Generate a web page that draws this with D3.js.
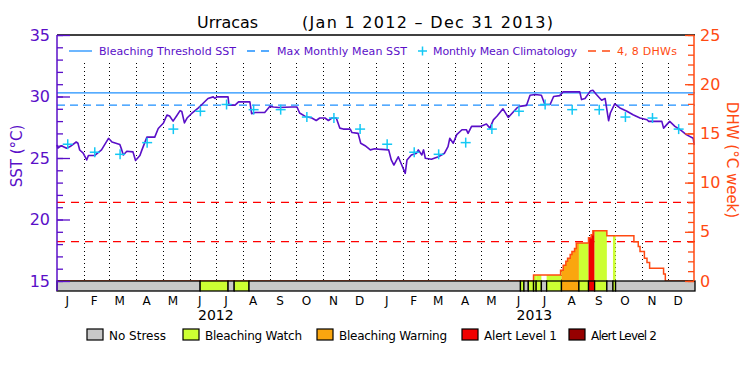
<!DOCTYPE html>
<html>
<head>
<meta charset="utf-8">
<script src="https://cdn.jsdelivr.net/npm/d3@7"></script>
<style>
  body { margin: 0; background: #fff; }
  svg { display: block; font-family: 'DejaVu Sans', sans-serif; }
</style>
</head>
<body>
<svg id="chart" width="750" height="375"></svg>
<script>
const startDate = new Date(Date.UTC(2012, 0, 1))
const endDate = new Date(Date.UTC(2014, 0, 1))

// SST readings, days counted from Jan 1 2012
const sstDay = [0, 1, 5, 11, 15, 22, 24, 26, 30, 34, 36, 43, 51, 59, 63, 72, 74, 76, 80, 87, 90, 95, 97, 103, 112, 116, 122, 126, 129, 133, 137, 141, 143, 146, 149, 154, 162, 166, 173, 179, 181, 183, 196, 197, 204, 208, 221, 223, 227, 238, 244, 248, 254, 269, 275, 278, 284, 292, 297, 301, 307, 311, 315, 320, 324, 328, 336, 338, 345, 348, 353, 359, 364, 368, 380, 383, 386, 391, 395, 399, 401, 406, 412, 414, 418, 420, 422, 429, 437, 444, 448, 450, 454, 458, 464, 469, 471, 475, 485, 492, 496, 500, 504, 511, 517, 527, 530, 538, 542, 548, 555, 559, 565, 569, 576, 580, 599, 601, 605, 611, 614, 618, 624, 628, 632, 634, 639, 645, 653, 660, 668, 676, 678, 693, 695, 702, 708, 714, 721, 729, 730]
const sstValue = [26.07, 25.8, 26.0, 25.8, 25.93, 26.3, 26.2, 25.65, 25.4, 24.84, 25.2, 25.2, 25.66, 26.6, 26.3, 26.1, 25.7, 25.25, 25.55, 25.5, 24.8, 25.2, 25.6, 26.7, 26.7, 27.4, 27.85, 28.5, 28.42, 28.0, 28.42, 28.85, 28.78, 27.85, 28.25, 28.6, 29.07, 29.35, 29.84, 29.97, 29.84, 29.97, 29.97, 29.3, 29.3, 29.56, 29.56, 28.6, 28.7, 28.7, 29.2, 29.15, 29.1, 29.15, 29.15, 28.66, 28.4, 28.25, 28.05, 28.25, 28.25, 28.05, 28.25, 28.25, 27.43, 27.35, 27.35, 27.07, 27.0, 26.2, 26.0, 25.66, 25.75, 25.72, 25.66, 24.84, 24.43, 25.1, 24.43, 23.75, 24.84, 25.25, 25.39, 25.66, 25.25, 25.66, 24.98, 24.9, 25.1, 25.39, 25.93, 26.6, 26.2, 26.9, 27.3, 27.3, 27.0, 27.57, 27.57, 27.76, 27.43, 28.1, 28.39, 29.0, 28.3, 29.07, 29.2, 29.28, 30.1, 30.16, 30.1, 29.35, 29.35, 30.0, 30.07, 30.38, 30.38, 29.75, 29.84, 30.44, 30.5, 30.16, 29.7, 29.84, 28.03, 28.66, 29.4, 29.07, 28.8, 28.52, 28.25, 28.11, 27.98, 27.98, 27.43, 27.98, 27.57, 27.3, 26.9, 26.6, 26.07]

const climMonthly = [26.12, 25.47, 25.3, 26.25, 27.35, 28.8, 29.35, 28.93, 28.93, 28.33, 28.25, 27.35]
const climYears = [2012, 2013]
const monthLetters = ['J', 'F', 'M', 'A', 'M', 'J', 'J', 'A', 'S', 'O', 'N', 'D']

const thresholdSst = 30.3
const mmmSst = 29.3
const dhwLevels = [4, 8]

const dhwDay = [0, 546, 577, 580, 583, 585, 588, 590, 593, 595, 609, 612, 614, 630, 661, 666, 668, 673, 676, 679, 695, 697, 731]
const dhwValue = [0, 0.6, 1.1, 1.6, 2.0, 2.3, 2.7, 3.0, 3.3, 3.85, 4.4, 4.7, 5.1, 4.6, 4.0, 3.5, 3.0, 2.3, 1.87, 1.3, 0.7, 0, 0]

// stress level runs: 0 no stress, 1 watch, 2 warning, 3 alert 1, 4 alert 2
const stressDay = [0, 164, 196, 203, 220, 531, 535, 540, 546, 549, 555, 561, 578, 598, 609, 616, 630, 637, 640]
const stressLevel = [0, 1, 0, 1, 0, 1, 0, 1, 1, 1, 0, 1, 2, 1, 3, 1, 0, 1, 0]
const stressNames = ['No Stress', 'Bleaching Watch', 'Bleaching Warning', 'Alert Level 1', 'Alert Level 2']

const stressColors = ['#c8c8c8', '#ccff33', '#faa60f', '#f00000', '#960000']
const purple = '#5a0fc8'
const blue = '#1e90ff'
const cyan = '#14c8f5'
const dhwColor = '#ff4a12'

const plotLeft = 57
const plotRight = 695
const plotTop = 35
const plotBase = 281
const barBottom = 291

const svg = d3.select('#chart')

const dayToDate = (d) => d3.utcDay.offset(startDate, d)
const x = d3.scaleUtc().domain([startDate, endDate]).range([plotLeft, plotRight])
const ySst = d3.scaleLinear().domain([15, 35]).range([plotBase, plotTop])
const yDhw = d3.scaleLinear().domain([0, 25]).range([plotBase, plotTop])

// month grid
svg.append('g')
  .selectAll('line')
  .data(d3.utcMonth.range(d3.utcMonth.offset(startDate, 1), endDate))
  .join('line')
  .attr('x1', (d) => Math.round(x(d)) + 0.5)
  .attr('x2', (d) => Math.round(x(d)) + 0.5)
  .attr('y1', 63)
  .attr('y2', plotBase)
  .attr('stroke', '#000')
  .attr('stroke-dasharray', '1,3')

// 4 and 8 DHW references
svg.append('g')
  .selectAll('line')
  .data(dhwLevels)
  .join('line')
  .attr('x1', plotLeft)
  .attr('x2', plotRight)
  .attr('y1', (d) => yDhw(d))
  .attr('y2', (d) => yDhw(d))
  .attr('stroke', '#f00')
  .attr('stroke-width', 1.2)
  .attr('stroke-dasharray', '8,6')

svg.append('line')
  .attr('x1', plotLeft).attr('x2', plotRight)
  .attr('y1', ySst(thresholdSst)).attr('y2', ySst(thresholdSst))
  .attr('stroke', blue).attr('stroke-width', 1.3)

svg.append('line')
  .attr('x1', plotLeft).attr('x2', plotRight)
  .attr('y1', ySst(mmmSst)).attr('y2', ySst(mmmSst))
  .attr('stroke', blue).attr('stroke-width', 1.3)
  .attr('stroke-dasharray', '8,5')

// DHW area filled by stress level
const dhwPoints = dhwDay.map((d, i) => ({ date: dayToDate(d), value: dhwValue[i] }))
const dhwArea = d3.area().curve(d3.curveStepAfter).x((d) => x(d.date)).y0(plotBase).y1((d) => yDhw(d.value))
const dhwLine = d3.line().curve(d3.curveStepAfter).x((d) => x(d.date)).y((d) => yDhw(d.value))

svg.append('clipPath').attr('id', 'dhw-clip').append('path').attr('d', dhwArea(dhwPoints))

const stressRuns = stressDay.map((d, i) => ({
  start: dayToDate(d),
  end: i < stressDay.length - 1 ? dayToDate(stressDay[i + 1]) : endDate,
  level: stressLevel[i]
}))

svg.append('g')
  .attr('clip-path', 'url(#dhw-clip)')
  .selectAll('rect')
  .data(stressRuns.filter((d) => d.level > 0))
  .join('rect')
  .attr('x', (d) => x(d.start))
  .attr('width', (d) => x(d.end) - x(d.start))
  .attr('y', plotTop)
  .attr('height', plotBase - plotTop)
  .attr('fill', (d) => stressColors[d.level])

svg.append('path')
  .attr('d', dhwLine(dhwPoints))
  .attr('fill', 'none')
  .attr('stroke', dhwColor)
  .attr('stroke-width', 1.5)

// SST line
const sstPoints = sstDay.map((d, i) => ({ date: dayToDate(d), value: sstValue[i] }))
svg.append('path')
  .attr('d', d3.line().x((d) => x(d.date)).y((d) => ySst(d.value))(sstPoints))
  .attr('fill', 'none')
  .attr('stroke', purple)
  .attr('stroke-width', 1.6)
  .attr('stroke-linejoin', 'round')

// monthly mean climatology crosses
const climPoints = climYears.flatMap((yr) => climMonthly.map((v, m) => ({ date: new Date(Date.UTC(yr, m, 15)), value: v })))
const cross = svg.append('g').selectAll('g').data(climPoints).join('g')
  .attr('transform', (d) => `translate(${x(d.date) - 1.5}, ${ySst(d.value)})`)
  .attr('stroke', cyan)
  .attr('stroke-width', 1.5)
cross.append('line').attr('x1', -5).attr('x2', 5)
cross.append('line').attr('y1', -5).attr('y2', 5)

// stress bar
svg.append('g')
  .selectAll('rect')
  .data(stressRuns)
  .join('rect')
  .attr('x', (d) => x(d.start))
  .attr('width', (d) => x(d.end) - x(d.start))
  .attr('y', plotBase)
  .attr('height', barBottom - plotBase)
  .attr('fill', (d) => stressColors[d.level])
  .attr('stroke', '#000')
  .attr('stroke-width', 1.3)

// top border
svg.append('line')
  .attr('x1', plotLeft).attr('x2', plotRight)
  .attr('y1', plotTop).attr('y2', plotTop)
  .attr('stroke', '#000').attr('stroke-width', 1.3)

// left SST axis, ticks pointing inward
const leftAxis = svg.append('g').attr('transform', `translate(${plotLeft}, 0)`).attr('color', purple)
leftAxis.append('g').call(d3.axisLeft(ySst).tickValues(d3.range(15, 36)).tickSize(-6).tickFormat(''))
leftAxis.append('g').call(d3.axisLeft(ySst).tickValues(d3.range(15, 36, 5)).tickSize(-13).tickPadding(7))
leftAxis.selectAll('.domain').remove()
leftAxis.selectAll('line').attr('stroke-width', 1.3)
leftAxis.selectAll('text').attr('font-size', 16).attr('font-family', 'DejaVu Sans').attr('fill', purple)
leftAxis.append('line').attr('y1', plotTop).attr('y2', barBottom).attr('stroke', purple).attr('stroke-width', 1.5)

svg.append('text')
  .attr('transform', 'translate(22, 156) rotate(-90)')
  .attr('text-anchor', 'middle')
  .attr('fill', purple)
  .attr('font-size', 15)
  .text('SST (°C)')

// right DHW axis
const rightAxis = svg.append('g').attr('transform', `translate(${plotRight - 1}, 0)`).attr('color', dhwColor)
rightAxis.append('g').call(d3.axisRight(yDhw).tickValues(d3.range(0, 26)).tickSize(-6).tickFormat(''))
rightAxis.append('g').call(d3.axisRight(yDhw).tickValues(d3.range(0, 26, 5)).tickSize(-9).tickPadding(6))
rightAxis.selectAll('.domain').remove()
rightAxis.selectAll('line').attr('stroke-width', 1.3)
rightAxis.selectAll('text').attr('font-size', 16).attr('font-family', 'DejaVu Sans').attr('fill', dhwColor)
rightAxis.append('line').attr('y1', plotTop).attr('y2', plotBase).attr('stroke', dhwColor).attr('stroke-width', 1.5)

svg.append('text')
  .attr('transform', 'translate(727, 160) rotate(90)')
  .attr('text-anchor', 'middle')
  .attr('fill', dhwColor)
  .attr('font-size', 15)
  .text('DHW (°C week)')

// month and year labels
svg.append('g')
  .selectAll('text')
  .data(d3.utcMonth.range(startDate, endDate))
  .join('text')
  .attr('x', (d) => x(d3.utcDay.offset(d, 14)) - 2)
  .attr('y', 305)
  .attr('text-anchor', 'middle')
  .attr('font-size', 12)
  .text((d) => monthLetters[d.getUTCMonth()])

svg.append('g')
  .selectAll('text')
  .data(climYears)
  .join('text')
  .attr('x', (d) => x(new Date(Date.UTC(d, 6, 1))))
  .attr('y', 320)
  .attr('text-anchor', 'middle')
  .attr('font-size', 14)
  .text((d) => d)

// title
svg.append('text').attr('x', 197).attr('y', 28).attr('font-size', 16)
  .attr('textLength', 61).attr('lengthAdjust', 'spacingAndGlyphs').text('Urracas')
svg.append('text').attr('x', 302).attr('y', 28).attr('font-size', 16)
  .attr('textLength', 251).attr('lengthAdjust', 'spacing').text('(Jan 1 2012 – Dec 31 2013)')

// legend inside the plot
const legend = svg.append('g').attr('font-size', 11)
legend.append('line').attr('x1', 69).attr('x2', 92).attr('y1', 51).attr('y2', 51).attr('stroke', blue).attr('stroke-width', 1.3)
legend.append('text').attr('x', 99).attr('y', 55).attr('fill', purple).attr('textLength', 137).text('Bleaching Threshold SST')
legend.append('line').attr('x1', 247).attr('x2', 270).attr('y1', 51).attr('y2', 51).attr('stroke', blue).attr('stroke-width', 1.3).attr('stroke-dasharray', '8,6')
legend.append('text').attr('x', 277).attr('y', 55).attr('fill', purple).attr('textLength', 130).text('Max Monthly Mean SST')
legend.append('line').attr('x1', 418).attr('x2', 427).attr('y1', 51).attr('y2', 51).attr('stroke', cyan).attr('stroke-width', 1.5)
legend.append('line').attr('x1', 422.5).attr('x2', 422.5).attr('y1', 46.5).attr('y2', 55.5).attr('stroke', cyan).attr('stroke-width', 1.5)
legend.append('text').attr('x', 433).attr('y', 55).attr('fill', purple).attr('textLength', 144).text('Monthly Mean Climatology')
legend.append('line').attr('x1', 588).attr('x2', 612).attr('y1', 51).attr('y2', 51).attr('stroke', dhwColor).attr('stroke-width', 1.3).attr('stroke-dasharray', '8,6')
legend.append('text').attr('x', 617).attr('y', 55).attr('fill', dhwColor).attr('textLength', 60).text('4, 8 DHWs')

// stress legend
const stressLegendX = [87, 183, 317, 462, 569]
const stressLegendWidth = [57, 97, 108, 73, 66]
const stressLegend = svg.append('g')
  .selectAll('g')
  .data(stressNames)
  .join('g')
  .attr('transform', (d, i) => `translate(${stressLegendX[i]}, 329)`)
stressLegend.append('rect')
  .attr('width', 16)
  .attr('height', 11)
  .attr('fill', (d, i) => stressColors[i])
  .attr('stroke', '#000')
  .attr('stroke-width', 1.2)
stressLegend.append('text')
  .attr('x', 22)
  .attr('y', 11)
  .attr('font-size', 12)
  .attr('textLength', (d, i) => stressLegendWidth[i])
  .text((d) => d)
</script>
</body>
</html>
